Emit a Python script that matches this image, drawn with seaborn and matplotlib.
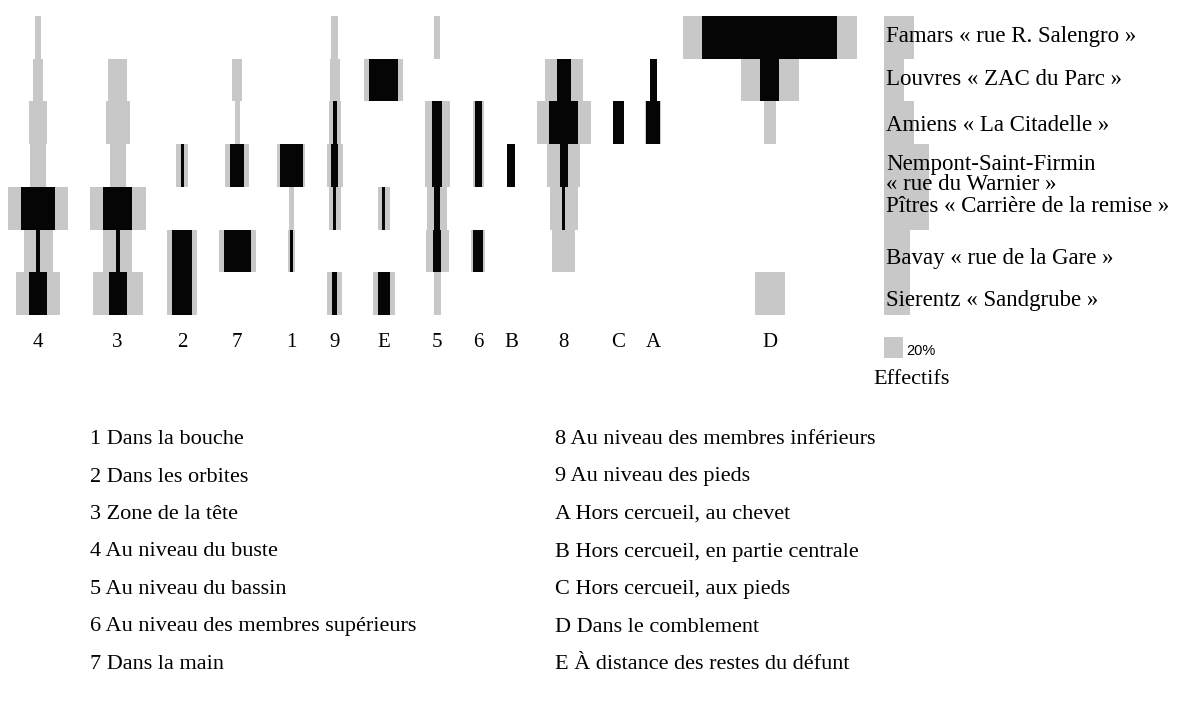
import numpy as np
import matplotlib
matplotlib.use("Agg")
import matplotlib.pyplot as plt
import matplotlib.transforms as mtransforms
import seaborn as sns

sns.set_style("white")
plt.rcParams["font.family"] = ["Liberation Serif", "DejaVu Serif"]
plt.rcParams["text.color"] = "black"

# sites (rows, top to bottom)
sites = ["Famars « rue R. Salengro »", "Louvres « ZAC du Parc »",
         "Amiens « La Citadelle »", "Nempont-Saint-Firmin\n« rue du Warnier »",
         "Pîtres « Carrière de la remise »", "Bavay « rue de la Gare »",
         "Sierentz « Sandgrube »"]

# position categories (columns, left to right)
positions = ["4", "3", "2", "7", "1", "9", "E", "5", "6", "B", "8", "C", "A", "D"]

# grey bars (%), one list per site, in the order of `positions`
grey_famars = [6, 0, 0, 0, 0, 6.7, 0, 6, 0, 0, 0, 0, 0, 174]
grey_louvres = [9.3, 19, 0, 10, 0, 10, 39, 0, 0, 0, 38, 0, 0, 58]
grey_amiens = [18, 24, 0, 5, 0, 12, 0, 25, 11.7, 0, 54, 0, 16, 12]
grey_nempont = [16, 16, 12, 24, 27.6, 16, 0, 25, 11.7, 0, 33, 0, 0, 0]
grey_pitres = [60, 56, 0, 0, 5, 12, 12, 20, 0, 0, 28, 0, 0, 0]
grey_bavay = [29, 29, 30, 37, 6.7, 0, 0, 23, 14, 0, 23, 0, 0, 0]
grey_sierentz = [44, 50, 30, 0, 0, 15, 22, 7, 0, 0, 0, 0, 0, 30]

# black bars (%)
black_famars = [0, 0, 0, 0, 0, 0, 0, 0, 0, 0, 0, 0, 0, 135]
black_louvres = [0, 0, 0, 0, 0, 0, 29, 0, 0, 0, 14, 0, 7, 19]
black_amiens = [0, 0, 0, 0, 0, 4, 0, 10, 7, 0, 29, 11, 14, 0]
black_nempont = [0, 0, 3, 14, 23, 7, 0, 10, 7, 8.3, 8, 0, 0, 0]
black_pitres = [34, 29, 0, 0, 0, 3, 3, 6, 0, 0, 3, 0, 0, 0]
black_bavay = [4.3, 4, 20, 27, 3.3, 0, 0, 8, 10, 0, 0, 0, 0, 0]
black_sierentz = [18, 18, 20, 0, 0, 5, 12, 0, 0, 0, 0, 0, 0, 0]

# effectifs per site (%)
effectifs = [30, 20, 30, 44.5, 44.5, 25.5, 25.5]

legend_left = ["1 Dans la bouche", "2 Dans les orbites", "3 Zone de la tête",
               "4 Au niveau du buste", "5 Au niveau du bassin",
               "6 Au niveau des membres supérieurs", "7 Dans la main"]
legend_right = ["8 Au niveau des membres inférieurs", "9 Au niveau des pieds",
                "A Hors cercueil, au chevet", "B Hors cercueil, en partie centrale",
                "C Hors cercueil, aux pieds", "D Dans le comblement",
                "E À distance des restes du défunt"]

grey = np.array([grey_famars, grey_louvres, grey_amiens, grey_nempont,
                 grey_pitres, grey_bavay, grey_sierentz])
black = np.array([black_famars, black_louvres, black_amiens, black_nempont,
                  black_pitres, black_bavay, black_sierentz])

GREY = "#c8c8c8"
BLACK = "#050505"
W, H = 1177, 720

fig = plt.figure(figsize=(W / 100, H / 100), dpi=100)

# main matrix: 1 % = 1 px horizontally
top_px, bot_px = 16, 315
ax = fig.add_axes([0, 1 - bot_px / H, 1, (bot_px - top_px) / H])
ax.set_xlim(0, W)
ax.set_ylim(len(sites) - 0.5, -0.5)
ax.axis("off")

# column centres: each column as wide as its widest bar, fixed gap between
col_width = np.maximum(grey.max(axis=0), black.max(axis=0))
gap = 21.6
lefts = 8 + np.concatenate([[0], np.cumsum(col_width + gap)[:-1]])
centres = lefts + col_width / 2

for j in range(len(positions)):
    for i in range(len(sites)):
        g = grey[i, j]
        b = black[i, j]
        if g > 0:
            ax.barh(i, g, left=centres[j] - g / 2, height=1.0, color=GREY,
                    linewidth=0)
        if b > 0:
            ax.barh(i, b, left=centres[j] - b / 2, height=1.0, color=BLACK,
                    linewidth=0)

tr = mtransforms.blended_transform_factory(ax.transData, fig.transFigure)
for c, lab in zip(centres, positions):
    fig.text(c, 1 - 347 / H, lab, transform=tr, ha="center", va="baseline",
             fontsize=15)

# effectifs column
ax2 = fig.add_axes([884 / W, 1 - bot_px / H, 290 / W, (bot_px - top_px) / H])
sns.barplot(x=effectifs, y=sites, orient="h", color=GREY, saturation=1,
            width=1.0, linewidth=0, ax=ax2)
ax2.set_xlim(0, 290)
ax2.set_ylim(len(sites) - 0.5, -0.5)
ax2.axis("off")

base_px = {0: 42, 1: 85, 2: 131, 3: 170, 4: 212, 5: 264, 6: 306}
for i, s in enumerate(sites):
    for k, line in enumerate(s.split("\n")):
        y = base_px[i] + k * 20
        fig.text(886 / W, 1 - y / H, line, ha="left", va="baseline",
                 fontsize=16.5)

# legend square
fig.patches.append(plt.Rectangle((884 / W, 1 - 358 / H), 19 / W, 21 / H,
                                 transform=fig.transFigure, color=GREY,
                                 linewidth=0))
fig.text(906 / W, 1 - 355 / H, "20%", family="Liberation Sans", fontsize=10.5,
         ha="left", va="baseline")
fig.text(873 / W, 1 - 384 / H, "Effectifs", ha="left", va="baseline",
         fontsize=16)

# position legend
for k, (l, r) in enumerate(zip(legend_left, legend_right)):
    y = 444 + k * 37.5
    fig.text(90 / W, 1 - y / H, l, ha="left", va="baseline", fontsize=16)
    fig.text(555 / W, 1 - y / H, r, ha="left", va="baseline", fontsize=16)

fig.savefig("out.png", dpi=100)
